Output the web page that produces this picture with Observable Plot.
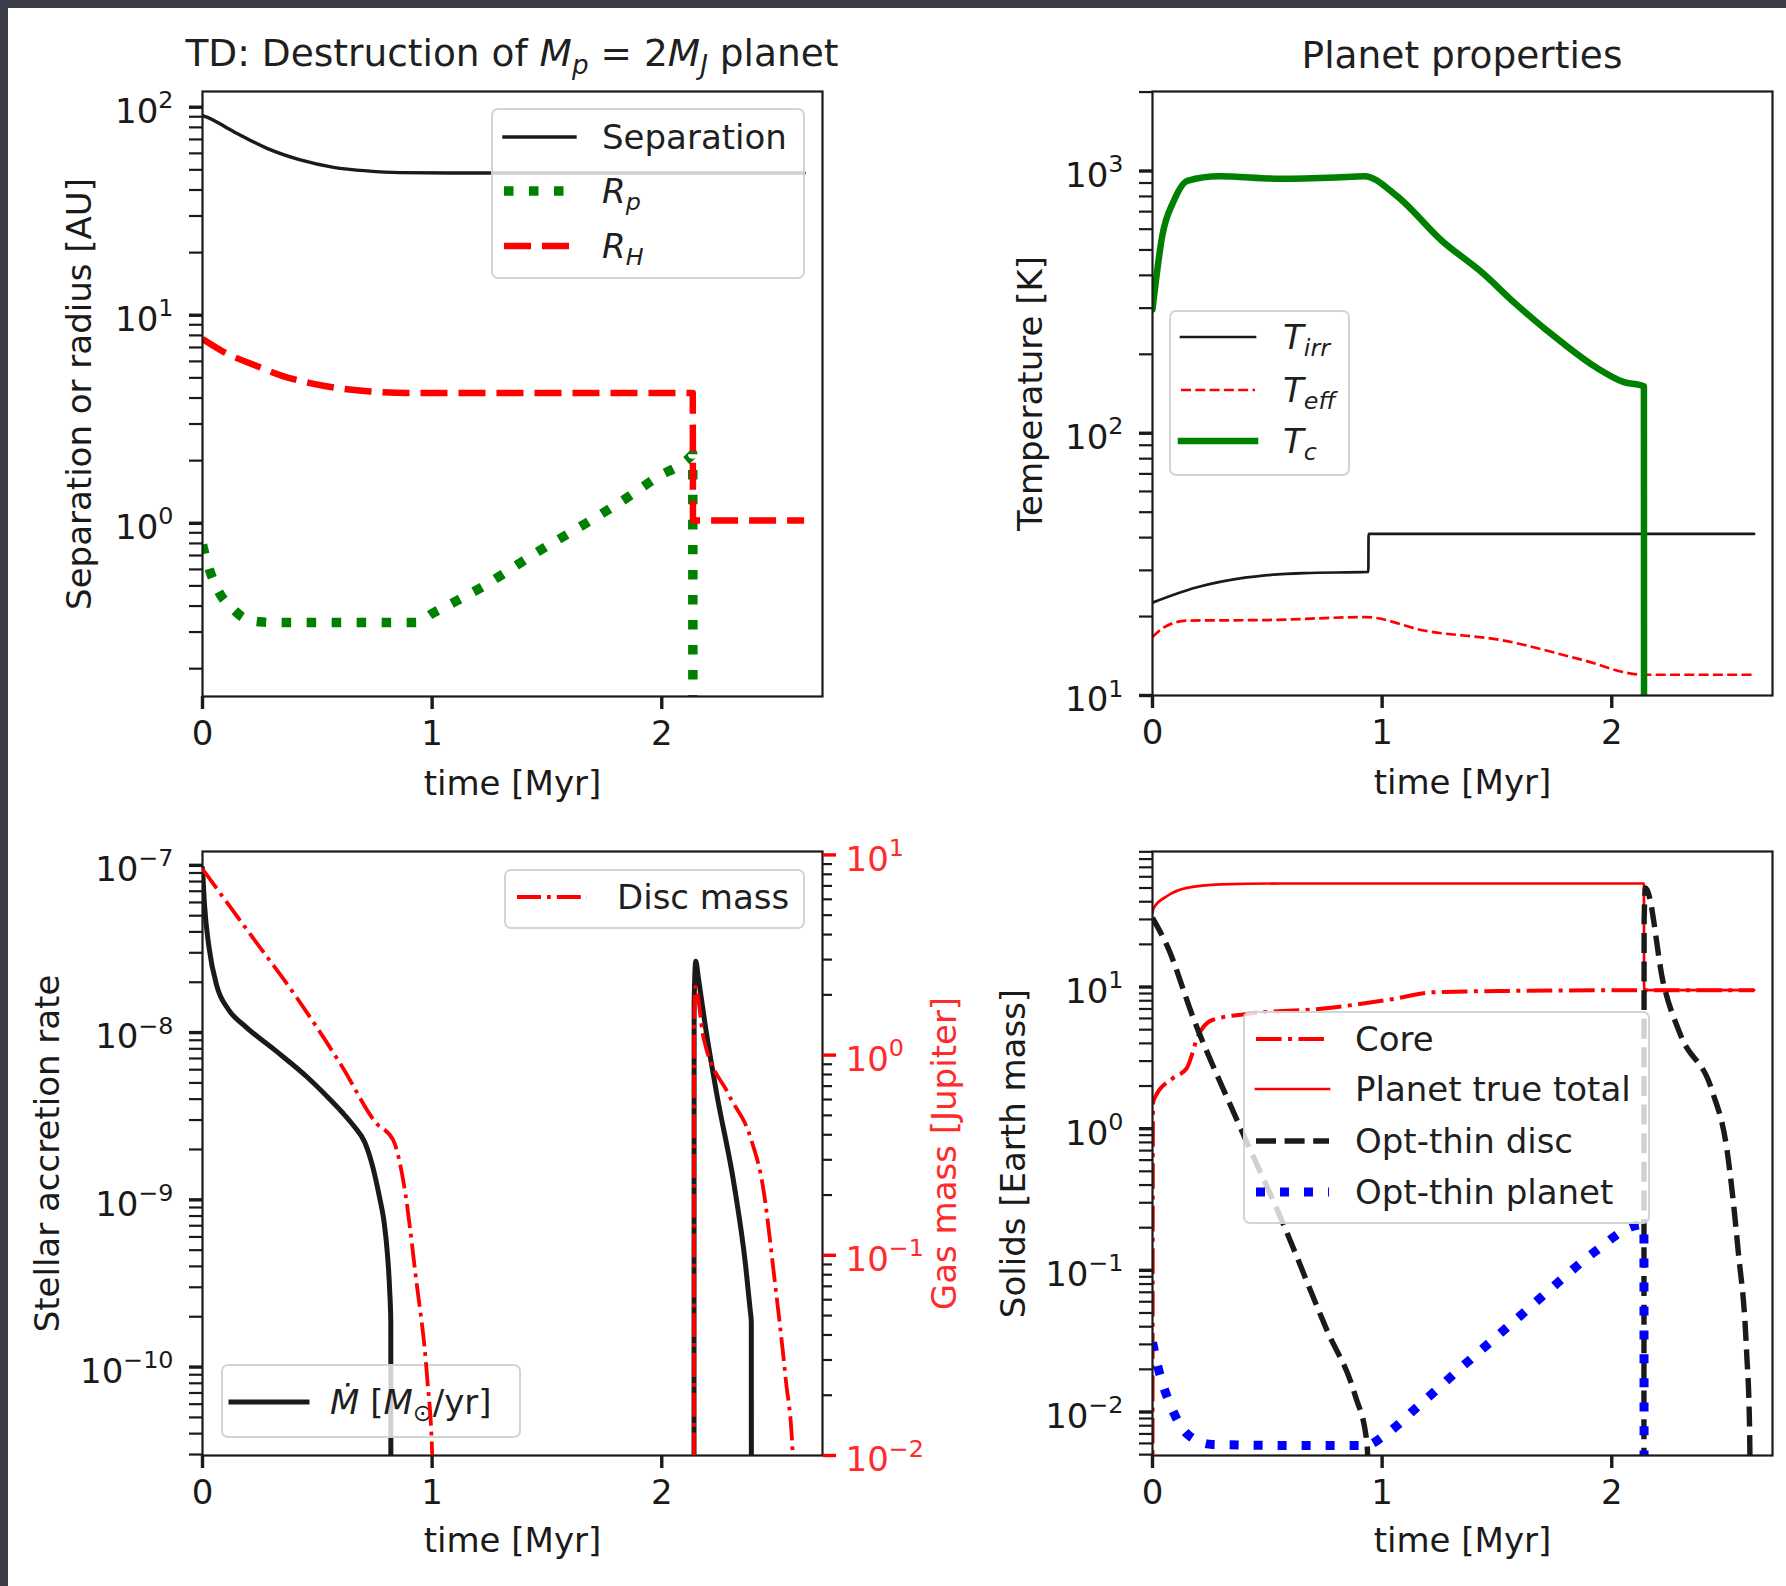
<!DOCTYPE html>
<html>
<head>
<meta charset="utf-8">
<script src="https://cdn.jsdelivr.net/npm/d3@7"></script>
<script src="https://cdn.jsdelivr.net/npm/@observablehq/plot@0.6"></script>
<style>
  html, body { margin: 0; padding: 0; background: #fff; }
  #page { position: relative; width: 1786px; height: 1586px; overflow: hidden; background: #fff;
          font-family: "DejaVu Sans", sans-serif; color: #1f1f1f; }
  #page > svg { position: absolute; left: 0; top: 0; }
  .edge { position: absolute; background: #3b3e46; }
  .title { position: absolute; font-size: 37.5px; white-space: nowrap; line-height: 1;
           transform: translate(-50%, -50%); }
  .legend { position: absolute; box-sizing: border-box; background: rgba(255,255,255,0.8);
            border: 2px solid rgba(204,204,204,0.85); border-radius: 7px; }
  .legend svg { position: absolute; overflow: visible; }
  .legend .lab { position: absolute; font-size: 34px; line-height: 1; white-space: nowrap;
                 transform: translateY(-50%); }
  .sub { font-size: 0.7em; vertical-align: -0.3em; line-height: 0; }
</style>
</head>
<body>
<div id="page"></div>
<script>
// ---------- data: time in Myr ----------
const timeDomain = [0, 2.7];
const xTicks = [0, 1, 2];

// Separation and radii [AU]
const sepT = [0, 0.006, 0.136, 0.281, 0.426, 0.571, 0.716, 0.861, 1.08, 1.6, 2.14, 2.62];
const sepV = [91, 90.6, 76.3, 63.4, 55.8, 51.4, 49.4, 48.5, 48.3, 48.3, 48.3, 48.3];
const rpT = [0, 0.02, 0.075, 0.13, 0.186, 0.25, 0.31, 0.6, 0.93, 1.0, 1.1, 1.226, 1.35, 1.474, 1.6, 1.72, 1.85, 1.97, 2.13, 2.135, 2.136];
const rpV = [0.79, 0.65, 0.46, 0.39, 0.348, 0.336, 0.333, 0.333, 0.333, 0.368, 0.42, 0.50, 0.61, 0.746, 0.9, 1.08, 1.33, 1.64, 2.12, 2.15, 0.001];
const rhT = [0, 0.1, 0.236, 0.35, 0.484, 0.6, 0.731, 0.9, 2.135, 2.136, 2.62];
const rhV = [7.7, 6.6, 5.7, 5.1, 4.68, 4.45, 4.3, 4.23, 4.23, 1.03, 1.03];

// Planet temperatures [K]
const tirrT = [0, 0.19, 0.41, 0.66, 0.94, 0.941, 2.62];
const tirrV = [22.6, 25.8, 28.2, 29.3, 29.6, 41.3, 41.3];
const teffT = [0, 0.05, 0.15, 0.5, 0.93, 1.18, 1.53, 1.855, 2.14, 2.62];
const teffV = [16.7, 18.2, 19.3, 19.4, 19.9, 17.7, 16.2, 13.8, 12.0, 12.0];
const tcT = [0, 0.043, 0.092, 0.152, 0.291, 0.553, 0.8, 0.923, 1.062, 1.261, 1.435, 1.584, 1.783, 1.933, 2.05, 2.14, 2.141];
const tcV = [297, 569, 767, 918, 955, 935, 945, 955, 806, 541, 410, 310, 222, 178, 157, 151, 1];

// Stellar accretion rate [Msun/yr], two episodes
const mdotT1 = [0, 0.008, 0.028, 0.063, 0.112, 0.186, 0.31, 0.459, 0.55, 0.607, 0.66, 0.707, 0.74, 0.77, 0.79, 0.805, 0.815, 0.82, 0.821];
const mdotV1 = [9.6e-8, 6e-8, 3.26e-8, 1.89e-8, 1.38e-8, 1.09e-8, 7.96e-9, 5.37e-9, 4.05e-9, 3.35e-9, 2.75e-9, 2.2e-9, 1.6e-9, 1.05e-9, 7.5e-10, 4.8e-10, 2.9e-10, 1.86e-10, 1e-13];
const mdotT2 = [2.14, 2.141, 2.148, 2.16, 2.19, 2.24, 2.316, 2.365, 2.385, 2.39, 2.391];
const mdotV2 = [1e-13, 1.5e-8, 2.67e-8, 2.1e-8, 1.09e-8, 4.26e-9, 1.21e-9, 4.07e-10, 2.2e-10, 1.86e-10, 1e-13];

// Disc gas mass [Jupiter]
const discT1 = [0, 0.211, 0.41, 0.607, 0.756, 0.83, 0.878, 0.929, 0.979, 1.0, 1.02];
const discV1 = [8.5, 3.97, 1.94, 0.88, 0.458, 0.377, 0.223, 0.078, 0.024, 0.0103, 0.001];
const discT2 = [2.14, 2.141, 2.146, 2.182, 2.291, 2.39, 2.44, 2.49, 2.54, 2.57, 2.58];
const discV2 = [0.001, 1.5, 2.2, 1.22, 0.637, 0.377, 0.223, 0.078, 0.024, 0.0103, 0.001];

// Solids [Earth mass]
const coreT = [0, 0.002, 0.013, 0.087, 0.149, 0.2, 0.26, 0.41, 0.734, 1.033, 1.23, 1.6, 2.14, 2.62];
const coreV = [0.003, 1.5, 1.69, 2.26, 2.67, 4.57, 5.85, 6.46, 7.02, 8.15, 9.2, 9.4, 9.5, 9.5];
const totalT = [0, 0.005, 0.064, 0.15, 0.297, 0.56, 1.0, 2.14, 2.141, 2.62];
const totalV = [33.4, 36, 43.9, 50.1, 53, 53.8, 53.8, 53.8, 9.5, 9.5];
const thinDiscT1 = [0, 0.064, 0.18, 0.361, 0.559, 0.759, 0.883, 0.933, 0.95];
const thinDiscV1 = [30.8, 19.5, 5.9, 1.22, 0.233, 0.038, 0.013, 0.0062, 0.001];
const thinDiscT2 = [2.14, 2.141, 2.147, 2.226, 2.30, 2.437, 2.5, 2.55, 2.587, 2.6, 2.605];
const thinDiscV2 = [0.001, 30, 50, 10.4, 4.57, 1.85, 0.74, 0.14, 0.027, 0.008, 0.001];
const thinPlanetT = [0, 0.025, 0.08, 0.16, 0.26, 0.6, 0.93, 1.008, 1.157, 1.356, 1.555, 1.73, 1.928, 2.1, 2.14, 2.141];
const thinPlanetV = [0.031, 0.0204, 0.011, 0.0068, 0.0059, 0.0058, 0.0058, 0.0068, 0.011, 0.0214, 0.041, 0.073, 0.136, 0.206, 0.21, 0.0001];

// ---------- layout ----------
const W = 1786, H = 1586;
const ink = "#1a1a1a", red = "#ff0000", green = "#008000", blue = "#0000ff", labelRed = "#ff2a2a";
// plotting frames [left, top, right, bottom]
const FTL = [202, 91, 822, 696], FTR = [1152, 91, 1772, 695];
const FBL = [202, 851, 822, 1455], FBR = [1152, 851, 1772, 1455];
const yTL = [0.147, 119], yTR = [10, 2010], yBL = [2.96e-11, 1.21e-7], yBLr = [0.01, 10.4], yBR = [0.00493, 90.5];

const pts = (ts, vs) => ts.map((t, i) => ({t, v: vs[i]}));

function powerLabel(d) {
  const e = Math.round(Math.log10(d));
  return "10^" + (e < 0 ? "\u2212" + (-e) : String(e));
}
function majorTicks([lo, hi]) {
  const out = [];
  for (let e = Math.floor(Math.log10(lo)); e <= Math.ceil(Math.log10(hi)); e++) {
    const v = 10 ** e; if (v >= lo * 0.9999 && v <= hi * 1.0001) out.push(v);
  }
  return out;
}
function minorTicks([lo, hi]) {
  const out = [];
  for (let e = Math.floor(Math.log10(lo)); e <= Math.ceil(Math.log10(hi)); e++)
    for (let k = 2; k <= 9; k++) {
      const v = +(k * 10 ** e).toPrecision(6);
      if (v >= lo && v <= hi) out.push(v);
    }
  return out;
}

function yAxisMarks(domain, {anchor = "left", majorColor = ink, textColor = ink, minorSize = 13, pad = 29} = {}) {
  return [
    Plot.axisY({anchor, ticks: minorTicks(domain), tickSize: minorSize, tickFormat: () => "", color: ink, strokeWidth: 2.2, label: null}),
    Plot.axisY({anchor, ticks: majorTicks(domain), tickSize: 13, tickFormat: () => "", color: majorColor, strokeWidth: 3.4, label: null}),
    Plot.axisY({anchor, ticks: majorTicks(domain), tickSize: 0, tickPadding: pad, tickFormat: powerLabel, color: textColor, fontSize: 34, dy: 5, label: null})
  ];
}
function xAxisMarks() {
  return [
    Plot.axisX({ticks: xTicks, tickSize: 13, tickFormat: () => "", color: ink, strokeWidth: 3.4, label: null}),
    Plot.axisX({ticks: xTicks, tickSize: 0, tickPadding: 24, tickFormat: d => String(d), color: ink, fontSize: 34, label: null})
  ];
}
const xLabel = (dy) => Plot.text(["time [Myr]"], {
  frameAnchor: "bottom", dy, text: d => d, fontSize: 34, fill: ink, textAnchor: "middle", lineAnchor: "middle"
});
const yLabel = (s, dx, fill = ink, anchor = "left") => Plot.text([s], {
  frameAnchor: anchor, dx, rotate: -90, text: d => d, fontSize: 34, fill, textAnchor: "middle", lineAnchor: "middle"
});

function series(ts, vs, stroke, strokeWidth, dash) {
  return Plot.line(pts(ts, vs), {
    x: "t", y: "v", stroke, strokeWidth, clip: true, curve: "monotone-x",
    strokeDasharray: dash || null, strokeLinecap: dash ? "butt" : "round", strokeLinejoin: "round"
  });
}

function makePlot(frame, yDomain, marks, xAxis = true) {
  const [x0, y0, x1, y1] = frame;
  return Plot.plot({
    width: W, height: H,
    marginLeft: x0, marginTop: y0, marginRight: W - x1, marginBottom: H - y1,
    x: {domain: timeDomain, axis: xAxis ? undefined : null},
    y: {type: "log", domain: yDomain},
    style: {background: "transparent", fontFamily: "DejaVu Sans, sans-serif", fontSize: "34px", color: ink, overflow: "visible"},
    marks
  });
}

// turn "10^e" labels into a base with a raised exponent
function superscripts(svg) {
  d3.select(svg).selectAll("text").each(function () {
    const m = /^10\^(.+)$/.exec(this.textContent);
    if (!m) return;
    const s = d3.select(this);
    s.text(null);
    s.append("tspan").text("10");
    s.append("tspan").attr("dy", "-0.62em").attr("font-size", "0.7em").text(m[1]);
  });
  return svg;
}

const page = document.getElementById("page");
const add = (el) => { page.appendChild(el); return el; };

function legend(box, rows, swatch, textX) {
  const b = 2;
  const div = document.createElement("div");
  div.className = "legend";
  Object.assign(div.style, {left: box[0] + "px", top: box[1] + "px", width: (box[2] - box[0]) + "px", height: (box[3] - box[1]) + "px"});
  for (const r of rows) {
    const ry = r.y - box[1] - b;
    const w = swatch[1] - swatch[0];
    const sv = d3.create("svg").attr("width", w).attr("height", 2)
      .style("left", (swatch[0] - box[0] - b) + "px").style("top", (ry - 1) + "px");
    sv.append("line").attr("x1", 0).attr("x2", w).attr("y1", 1).attr("y2", 1)
      .attr("stroke", r.stroke).attr("stroke-width", r.width)
      .attr("stroke-dasharray", r.dash || null).attr("stroke-linecap", r.dash ? "butt" : "square");
    div.appendChild(sv.node());
    const lab = document.createElement("div");
    lab.className = "lab";
    lab.innerHTML = r.html;
    Object.assign(lab.style, {left: (textX - box[0] - b) + "px", top: ry + "px"});
    div.appendChild(lab);
  }
  return add(div);
}

function title(html, cx, cy) {
  const d = document.createElement("div");
  d.className = "title";
  d.innerHTML = html;
  Object.assign(d.style, {left: cx + "px", top: cy + "px"});
  return add(d);
}

// dark page edges
const e1 = add(document.createElement("div")); e1.className = "edge";
Object.assign(e1.style, {left: "0px", top: "0px", width: W + "px", height: "8px"});
const e2 = add(document.createElement("div")); e2.className = "edge";
Object.assign(e2.style, {left: "0px", top: "0px", width: "8px", height: H + "px"});

// ---- separation / radius ----
const dRH = "27,11", dRp = "9.5,15.5";
add(superscripts(makePlot(FTL, yTL, [
  ...yAxisMarks(yTL), ...xAxisMarks(),
  series(sepT, sepV, ink, 3.4),
  series(rpT, rpV, green, 9.5, dRp),
  series(rhT, rhV, red, 6.5, dRH),
  Plot.frame({stroke: ink, strokeWidth: 2.2}),
  xLabel(88),
  yLabel("Separation or radius [AU]", -122)
])));
legend([491, 108, 805, 279], [
  {y: 137, html: "Separation", stroke: ink, width: 3.4},
  {y: 191, html: "<i>R</i><span class='sub'><i>p</i></span>", stroke: green, width: 9.5, dash: dRp},
  {y: 246, html: "<i>R</i><span class='sub'><i>H</i></span>", stroke: red, width: 6.5, dash: dRH}
], [504, 575], 602);
title("TD: Destruction of <i>M</i><span class='sub'><i>p</i></span> = 2<i>M</i><span class='sub'><i>J</i></span> planet", 512, 54);

// ---- temperatures ----
const dTeff = "10,4.3";
add(superscripts(makePlot(FTR, yTR, [
  ...yAxisMarks(yTR), ...xAxisMarks(),
  series(tirrT, tirrV, ink, 2.7),
  series(teffT, teffV, red, 2.7, dTeff),
  series(tcT, tcV, green, 6.5),
  Plot.frame({stroke: ink, strokeWidth: 2.2}),
  xLabel(88),
  yLabel("Temperature [K]", -121)
])));
legend([1169, 310, 1350, 476], [
  {y: 337, html: "<i>T</i><span class='sub'><i>irr</i></span>", stroke: ink, width: 2.7},
  {y: 390, html: "<i>T</i><span class='sub'><i>eff</i></span>", stroke: red, width: 2.7, dash: dTeff},
  {y: 441, html: "<i>T</i><span class='sub'><i>c</i></span>", stroke: green, width: 6.5}
], [1181, 1255], 1283);
title("Planet properties", 1462, 55.5);

// ---- accretion rate and disc mass ----
const dDisc = "24,6,3.8,6";
add(superscripts(makePlot(FBL, yBL, [
  ...yAxisMarks(yBL), ...xAxisMarks(),
  series(mdotT1, mdotV1, ink, 5),
  series(mdotT2, mdotV2, ink, 5),
  Plot.frame({stroke: ink, strokeWidth: 2.2}),
  xLabel(86),
  yLabel("Stellar accretion rate", -154)
])));
legend([221, 1364, 521, 1438], [
  {y: 1402, html: "<i>M&#x307;</i> [<i>M</i><span class='sub'>\u2299</span>/yr]", stroke: ink, width: 5}
], [231, 307], 330);
add(superscripts(makePlot(FBL, yBLr, [
  ...yAxisMarks(yBLr, {anchor: "right", majorColor: red, textColor: labelRed, minorSize: 9, pad: 23}),
  series(discT1, discV1, red, 3.8, dDisc),
  series(discT2, discV2, red, 3.8, dDisc),
  yLabel("Gas mass [Jupiter]", 123, labelRed, "right")
], false)));
legend([504, 869, 805, 929], [
  {y: 897, html: "Disc mass", stroke: red, width: 3.8, dash: dDisc}
], [517, 587], 617);

// ---- solids ----
const dCore = "25.6,6.4,4,6.4", dThinDisc = "20,8.6", dThinPlanet = "9,15";
add(superscripts(makePlot(FBR, yBR, [
  ...yAxisMarks(yBR), ...xAxisMarks(),
  series(coreT, coreV, red, 4, dCore),
  series(totalT, totalV, red, 2.7),
  series(thinDiscT1, thinDiscV1, ink, 5.4, dThinDisc),
  series(thinDiscT2, thinDiscV2, ink, 5.4, dThinDisc),
  series(thinPlanetT, thinPlanetV, blue, 9, dThinPlanet),
  Plot.frame({stroke: ink, strokeWidth: 2.2}),
  xLabel(86),
  yLabel("Solids [Earth mass]", -138)
])));
legend([1243, 1011, 1650, 1224], [
  {y: 1039, html: "Core", stroke: red, width: 4, dash: dCore},
  {y: 1089, html: "Planet true total", stroke: red, width: 2.7},
  {y: 1141, html: "Opt-thin disc", stroke: ink, width: 5.4, dash: dThinDisc},
  {y: 1192, html: "Opt-thin planet", stroke: blue, width: 9, dash: dThinPlanet}
], [1256, 1329], 1355);
</script>
</body>
</html>
